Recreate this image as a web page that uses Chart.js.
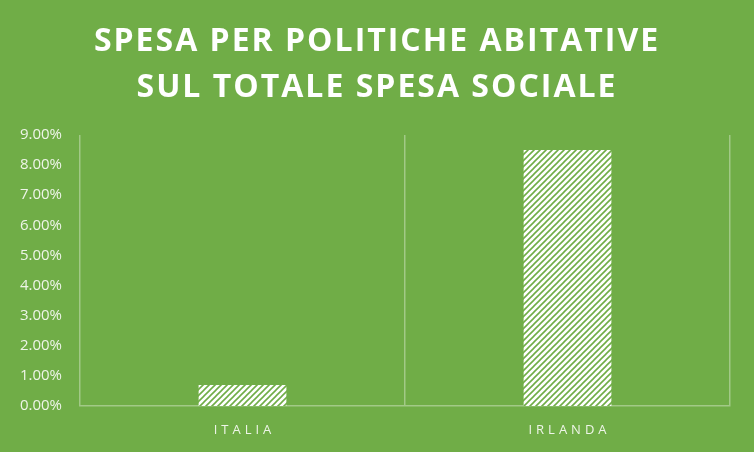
<!DOCTYPE html>
<html>
<head>
<meta charset="utf-8">
<script src="https://cdn.jsdelivr.net/npm/chart.js@4.4.0/dist/chart.umd.min.js"></script>
<style>
  html, body { margin: 0; padding: 0; background: #70ad47; }
  #wrap { width: 754px; height: 452px; }
</style>
</head>
<body>
<div id="wrap"><canvas id="myChart" width="754" height="452"></canvas></div>
<script>
const titleLines = ["SPESA PER POLITICHE ABITATIVE", "SUL TOTALE SPESA SOCIALE"];
const countries = ["ITALIA", "IRLANDA"];
const shares = [0.0070, 0.0850];
const yMax = 0.09;
const yStep = 0.01;

const green = "#70ad47";
const gridColor = "rgba(255,255,255,0.35)";

// diagonal hatch like Excel's "wide upward diagonal"
const makeHatch = () => {
  const c = document.createElement("canvas");
  c.width = 6;
  c.height = 6;
  const g = c.getContext("2d");
  g.fillStyle = "#ffffff";
  g.fillRect(0, 0, 6, 6);
  g.strokeStyle = green;
  g.lineWidth = 1.6;
  g.beginPath();
  g.moveTo(-1, 7); g.lineTo(7, -1);
  g.moveTo(-1, 1); g.lineTo(1, -1);
  g.moveTo(5, 7); g.lineTo(7, 5);
  g.stroke();
  return g.createPattern(c, "repeat");
};

const textPlugin = {
  id: "textPlugin",
  afterDraw(chart) {
    const ctx = chart.ctx;
    ctx.save();
    ctx.fillStyle = "#ffffff";
    ctx.textAlign = "center";
    ctx.textBaseline = "alphabetic";
    ctx.letterSpacing = "2px";
    ctx.font = "bold 32px 'Open Sans'";
    ctx.fillText(titleLines[0], 377, 51);
    ctx.fillText(titleLines[1], 377, 97);

    // category labels, spaced out
    const x = chart.scales.x;
    ctx.textBaseline = "middle";
    ctx.letterSpacing = "4px";
    ctx.font = "13px 'Open Sans'";
    ctx.fillStyle = "#eef5e8";
    countries.forEach((name, i) => {
      ctx.fillText(name, x.getPixelForValue(i) + 2, 430);
    });
    ctx.restore();
  },
};

const ctx = document.getElementById("myChart");
const myChart = new Chart(ctx, {
  type: "bar",
  data: {
    labels: countries,
    datasets: [
      {
        label: "Spesa",
        data: shares,
        backgroundColor: makeHatch(),
        borderWidth: 0,
        barPercentage: 0.54,
        categoryPercentage: 0.5,
      },
    ],
  },
  options: {
    responsive: false,
    animation: false,
    layout: { padding: { top: 135, right: 24, left: 0, bottom: 0 } },
    plugins: {
      legend: { display: false },
      title: { display: false },
      tooltip: { enabled: false },
    },
    scales: {
      x: {
        offset: true,
        grid: {
          display: true,
          offset: true,
          color: gridColor,
          lineWidth: 1.5,
          drawTicks: false,
        },
        border: { display: true, color: gridColor, width: 1.5 },
        ticks: { display: false },
        afterFit: (scale) => { scale.height = 46; },
      },
      y: {
        min: 0,
        max: yMax,
        grid: { display: false },
        border: { display: false },
        ticks: {
          stepSize: yStep,
          color: "#eef5e8",
          font: { family: "'Open Sans'", size: 15 },
          padding: 10,
          callback: (v) => (v * 100).toFixed(2) + "%",
        },
        afterFit: (scale) => { scale.width = 80; },
      },
    },
  },
  plugins: [textPlugin],
});
</script>
</body>
</html>
